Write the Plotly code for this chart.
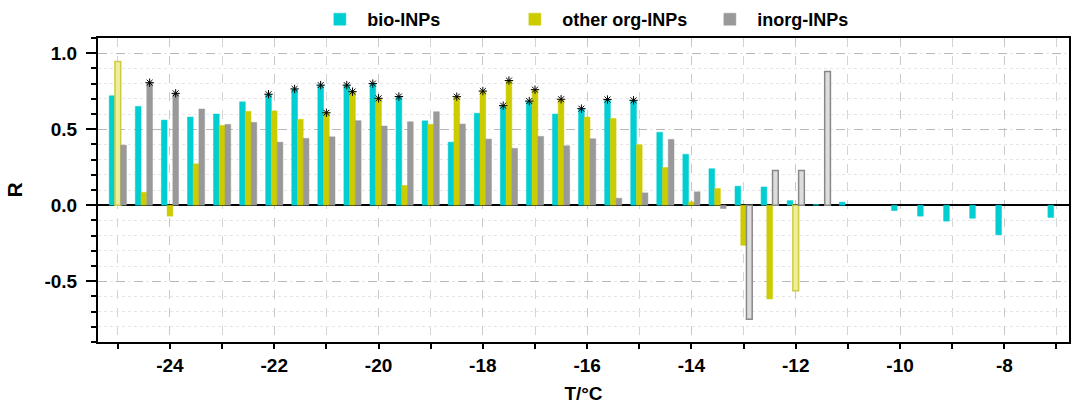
import plotly.graph_objects as go

# Freezing temperature (°C) for each group of bars
temps = [-25, -24.5, -24, -23.5, -23, -22.5, -22, -21.5, -21, -20.5, -20, -19.5,
         -19, -18.5, -18, -17.5, -17, -16.5, -16, -15.5, -15, -14.5, -14, -13.5,
         -13, -12.5, -12, -11.5, -11, -10.5, -10, -9.5, -9, -8.5, -8, -7.5, -7]

# Correlation coefficient R per INP class (None = no value)
bio_r = [0.72, 0.65, 0.56, 0.58, 0.60, 0.68, 0.73, 0.765, 0.79, 0.79, 0.80, 0.715,
         0.555, 0.415, 0.605, 0.655, 0.685, 0.60, 0.635, 0.695, 0.69, 0.48, 0.335, 0.24,
         0.125, 0.12, 0.03, 0.004, 0.02, None, -0.035, -0.072, -0.105, -0.086, -0.195, None, -0.081]
org_r = [0.945, 0.085, -0.072, 0.272, 0.525, 0.617, 0.62, 0.565, 0.608, 0.747, 0.703, 0.13,
         0.532, 0.714, 0.751, 0.82, 0.76, 0.697, 0.58, 0.571, 0.398, 0.248, 0.022, 0.11,
         -0.264, -0.617, -0.563, None, None, None, None, None, None, None, None, None, None]
inorg_r = [0.395, 0.806, 0.736, 0.633, 0.532, 0.545, 0.415, 0.44, 0.45, 0.556, 0.521, 0.549,
           0.615, 0.534, 0.435, 0.374, 0.453, 0.391, 0.437, 0.046, 0.081, 0.433, 0.088, -0.022,
           -0.751, 0.229, 0.229, 0.879, None, None, None, None, None, None, None, None, None]

# Temperatures where R is statistically significant (asterisk)
bio_sig = [-22, -21.5, -21, -20.5, -20, -19.5, -17.5, -17, -16, -15.5, -15]
org_sig = [-21, -20.5, -20, -18.5, -18, -17.5, -17, -16.5]
inorg_sig = [-24.5, -24]

# Temperatures with too few samples (drawn as hollow bars)
bio_few = []
org_few = [-25, -12]
inorg_few = [-13, -12.5, -12, -11.5]

# Axis tick values and labels
x_ticks = [-24, -22, -20, -18, -16, -14, -12, -10, -8]
x_labels = ["-24", "-22", "-20", "-18", "-16", "-14", "-12", "-10", "-8"]
y_ticks = [-0.5, 0.0, 0.5, 1.0]
y_labels = ["-0.5", "0.0", "0.5", "1.0"]

series = [
    ("bio-INPs", bio_r, bio_sig, bio_few, "#00CED1", "#7FE6E8", "#00CED1"),
    ("other org-INPs", org_r, org_sig, org_few, "#CCCC00", "#EEEE99", "#CCCC44"),
    ("inorg-INPs", inorg_r, inorg_sig, inorg_few, "#999999", "#DDDDDD", "#888888"),
]

bar_w = 0.11
offsets = [-0.165, -0.055, 0.055]

fig = go.Figure()
for (name, vals, sig, few, col, light, edge), off in zip(series, offsets):
    fills = [light if t in few else col for t in temps]
    lines = [edge if t in few else col for t in temps]
    lw = [1.5 if t in few else 0.5 for t in temps]
    fig.add_trace(go.Bar(
        x=temps, y=vals, name=name, width=bar_w, offset=off, showlegend=False,
        legendgroup=name,
        marker=dict(color=fills, line=dict(color=lines, width=lw)),
    ))
    # Solid swatch for the legend entry
    fig.add_trace(go.Bar(
        x=[None], y=[None], name=name, legendgroup=name, showlegend=True,
        marker=dict(color=col, line=dict(color=col, width=0.5)),
    ))

# Significance asterisks on top of each marked bar
for (name, vals, sig, few, col, light, edge), off in zip(series, offsets):
    xs = [t + off + bar_w / 2 for t, v in zip(temps, vals) if t in sig]
    ys = [v for t, v in zip(temps, vals) if t in sig]
    fig.add_trace(go.Scatter(
        x=xs, y=ys, mode="markers", showlegend=False, hoverinfo="skip",
        marker=dict(symbol="asterisk-open", size=7, color="black",
                    line=dict(color="rgba(0,0,0,0.85)", width=1)),
    ))

font_family = "Liberation Sans, Arial, sans-serif"
fig.update_layout(
    width=1072, height=405,
    margin=dict(l=98, r=1, t=37, b=63),
    plot_bgcolor="white", paper_bgcolor="white",
    barmode="overlay",
    font=dict(family=font_family, size=19, color="black", weight="bold"),
    legend=dict(orientation="h", x=0.522, xanchor="center", y=1.0, yanchor="bottom",
                font=dict(size=18, weight="bold"), entrywidth=135, itemwidth=45,
                entrywidthmode="pixels", bgcolor="rgba(0,0,0,0)"),
    showlegend=True,
)
fig.update_xaxes(
    range=[-25.38, -6.76], tickmode="array", tickvals=x_ticks, ticktext=x_labels,
    ticks="outside", ticklen=5, tickwidth=2, tickcolor="black",
    showline=True, linewidth=2, linecolor="black", mirror=True,
    showgrid=True, gridcolor="#c8c8c8", griddash="dash", gridwidth=1,
    minor=dict(dtick=1, tick0=-25, ticks="outside", ticklen=5, tickwidth=2,
               tickcolor="black", showgrid=True, gridcolor="#d4d4d4", griddash="dash"),
    tickfont=dict(size=19, weight="bold"),
    title=dict(text="T/°C", font=dict(size=19, weight="bold"), standoff=12),
    zeroline=False,
)
fig.update_yaxes(
    range=[-0.9, 1.1], tickmode="array", tickvals=y_ticks, ticktext=y_labels,
    ticks="outside", ticklen=10, tickwidth=2, tickcolor="black", ticklabelstandoff=5,
    showline=True, linewidth=2, linecolor="black", mirror=True,
    showgrid=True, gridcolor="#b8b8b8", griddash="dash", gridwidth=1,
    minor=dict(dtick=0.1, tick0=0, ticks="outside", ticklen=5, tickwidth=2,
               tickcolor="black", showgrid=True, gridcolor="#e6e6e6", griddash="dot"),
    tickfont=dict(size=19, weight="bold"),
    title=dict(text="R", font=dict(size=21, weight="bold"), standoff=16),
    zeroline=True, zerolinecolor="black", zerolinewidth=2,
)

fig.write_html("out.html")
